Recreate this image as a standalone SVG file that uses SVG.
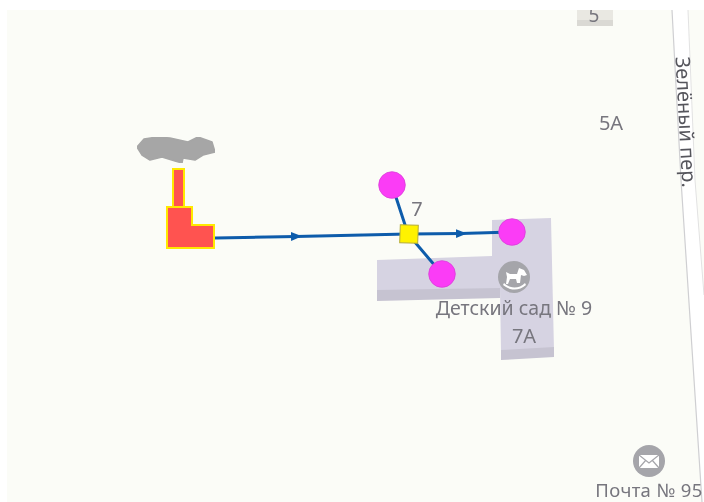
<svg xmlns="http://www.w3.org/2000/svg" width="704" height="502" viewBox="0 0 704 502">
<style>
.t{font-family:"Noto Sans","Open Sans","DejaVu Sans",sans-serif;fill:#77767e}
.b{fill:#d6d3e2}.s{fill:#c6c3d1}
.l{fill:none;stroke:#0f5cab;stroke-width:3}
.c{fill:#fb3cf6;stroke:#d93fd8;stroke-width:.8}
.r{fill:#ff5350;stroke:#ffe900;stroke-width:2}
.i{fill:#a5a5aa}
</style>
<defs>
<marker id="a" markerWidth="12" markerHeight="10" refX="5" refY="5" orient="auto" markerUnits="userSpaceOnUse"><path d="M0 .5L11 5L0 9.500Z" fill="#0f5cab"/></marker>
<filter id="soft" x="0" y="0" width="1" height="1"><feGaussianBlur stdDeviation="0.45"/></filter>
<clipPath id="top"><rect x="0" y="10" width="704" height="492"/></clipPath>
</defs>
<rect width="704" height="502" fill="#fff"/>
<rect x="7" y="10" width="697" height="492" fill="#fbfcf7"/>
<g id="map" filter="url(#soft)">
<path d="M672 10L681 180L702 502L704 502V295L695 180L688 10Z" fill="#fff"/>
<path d="M672 10L681 180L702 502" fill="none" stroke="#cfcfd2" stroke-width="1.200"/>
<path d="M688 10L695 180L704 295" fill="none" stroke="#e2e2e2" stroke-width="1"/>
<rect x="577" y="10" width="36" height="16" fill="#e9e8e2"/><rect x="577" y="20" width="36" height="6" fill="#dad9d4"/>
<path class="b" d="M492 220L551 218L554 350L501 352L500 290L377 300V260L492 256Z"/>
<path class="s" d="M377 290L500 288V298L377 301ZM501 350L554 347V357L501 360Z"/>
<circle class="i" cx="514" cy="277" r="16"/>
<path d="M504 283C510 289 519 289 525 283L526 285C519 291 510 291 503 285ZM506 272L510 274L517 274L519 268L524 270L527 275L524 276L521 275L520 283H517L516 279H510L508 284H506L507 277Z" fill="#fff"/>
<circle class="i" cx="649" cy="461" r="16"/>
<path d="M639 455H659V468H639Z" fill="#fff"/><path d="M639 455L649 463L659 455M639 468L646 460M659 468L652 460" fill="none" stroke="#a5a5aa" stroke-width="1.200"/>
<g clip-path="url(#top)"><text class="t" x="594" y="22" font-size="19" text-anchor="middle">5</text></g>
<text class="t" x="611" y="130" font-size="20" text-anchor="middle">5A</text>
<text class="t" x="417" y="216" font-size="20" text-anchor="middle">7</text>
<text class="t" x="524" y="343" font-size="20" text-anchor="middle">7A</text>
<text class="t" x="514" y="315" font-size="19.500" text-anchor="middle">Детский сад № 9</text>
<text class="t" x="649" y="496.500" font-size="18.500" letter-spacing=".35" text-anchor="middle">Почта № 95</text>
<text class="t" font-size="20" style="fill:#55555c" transform="translate(675.500 57) rotate(87)">Зелёный пер.</text>
</g>
<g id="cloud" filter="url(#soft)"><path d="M137 147L144 139L157 137L170 138L188 142L198 137L212 142L215 152L203 155L195 160L183 158L182 163L175 161L162 157L150 160L142 155Z" fill="#a6a6a6" stroke="#a6a6a6" stroke-width="1.500" stroke-linejoin="round"/></g>
<g id="connectors" filter="url(#soft)">
<path class="l" d="M215 238L296 236.400L408 234" marker-mid="url(#a)"/>
<path class="l" d="M408 234L461 233.500L512 232" marker-mid="url(#a)"/>
<path class="l" d="M392 185L408 234L442 274"/>
</g>
<g id="source"><path class="r" d="M173 169H184V207H173Z"/><path class="r" d="M167 207H192V225H214V248H167Z"/></g>
<g id="junction"><rect x="400" y="225" width="18" height="18" fill="#fff200" stroke="#b5ac3a" transform="rotate(2 409 234)"/></g>
<g id="c1"><circle class="c" cx="392" cy="185" r="13.300"/></g>
<g id="c2"><circle class="c" cx="512" cy="232" r="13.300"/></g>
<g id="c3"><circle class="c" cx="442" cy="274" r="13.300"/></g>
</svg>
